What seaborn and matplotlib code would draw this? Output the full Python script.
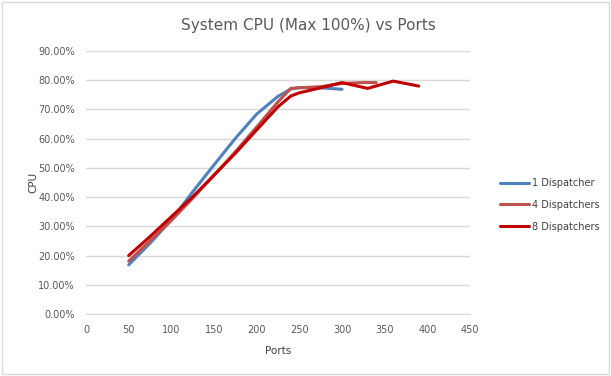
import pandas as pd
import seaborn as sns
import matplotlib.pyplot as plt
from matplotlib.ticker import PercentFormatter

# values
ports_1 = [50, 75, 100, 125, 150, 175, 200, 225, 240, 250, 275, 300]
cpu_1 = [0.168, 0.242, 0.322, 0.418, 0.510, 0.601, 0.684, 0.745, 0.770, 0.775, 0.774, 0.769]

ports_4 = [50, 100, 125, 150, 175, 200, 225, 240, 250, 275, 300, 325, 340]
cpu_4 = [0.181, 0.320, 0.396, 0.475, 0.555, 0.640, 0.726, 0.772, 0.774, 0.778, 0.789, 0.792, 0.792]

ports_8 = [50, 75, 100, 125, 150, 175, 200, 225, 240, 250, 275, 300, 330, 360, 390]
cpu_8 = [0.200, 0.265, 0.333, 0.401, 0.475, 0.550, 0.630, 0.709, 0.746, 0.757, 0.774, 0.792, 0.772, 0.797, 0.780]

names = ['1 Dispatcher', '4 Dispatchers', '8 Dispatchers']
colors = ['#4F81BD', '#C0504D', '#C00000']

df = pd.concat([
    pd.DataFrame({'Ports': ports_1, 'CPU': cpu_1, 'series': names[0]}),
    pd.DataFrame({'Ports': ports_4, 'CPU': cpu_4, 'series': names[1]}),
    pd.DataFrame({'Ports': ports_8, 'CPU': cpu_8, 'series': names[2]}),
])

sns.set_style('white')
plt.rcParams['font.family'] = ['DejaVu Sans']

fig = plt.figure(figsize=(6.11, 3.76), dpi=100)
ax = fig.add_axes([86 / 611, 1 - 314 / 376, (470 - 86) / 611, (314 - 51) / 376])

sns.lineplot(data=df, x='Ports', y='CPU', hue='series', palette=colors,
             linewidth=2.2, sort=False, ax=ax)

ax.set_xlim(0, 450)
ax.set_ylim(0, 0.9)
ax.set_xticks(range(0, 451, 50))
ax.set_yticks([i / 10 for i in range(10)])
ax.yaxis.set_major_formatter(PercentFormatter(1.0, decimals=2))
ax.grid(axis='y', color='#D9D9D9', linewidth=1)
ax.set_axisbelow(True)
for s in ['left', 'right', 'top']:
    ax.spines[s].set_visible(False)
ax.spines['bottom'].set_color('#D9D9D9')
ax.tick_params(length=0, labelsize=7, colors='#595959', pad=8)
ax.set_xlabel('Ports', fontsize=7.5, color='#404040', labelpad=8)
ax.set_ylabel('CPU', fontsize=7.5, color='#404040', labelpad=0)

fig.text(0.505, 0.932, 'System CPU (Max 100%) vs Ports', ha='center', va='center',
         fontsize=11, color='#595959')

leg = ax.legend(loc='center left', bbox_to_anchor=(1.055, 0.415), frameon=False,
                fontsize=7, handlelength=3, labelspacing=1.2, handletextpad=0.3)
for t in leg.get_texts():
    t.set_color('#404040')

fig.patches.append(plt.Rectangle((0.004, 0.006), 0.992, 0.988, transform=fig.transFigure,
                                 fill=False, edgecolor='#D9D9D9', linewidth=1))

fig.savefig('out.png', dpi=100)
